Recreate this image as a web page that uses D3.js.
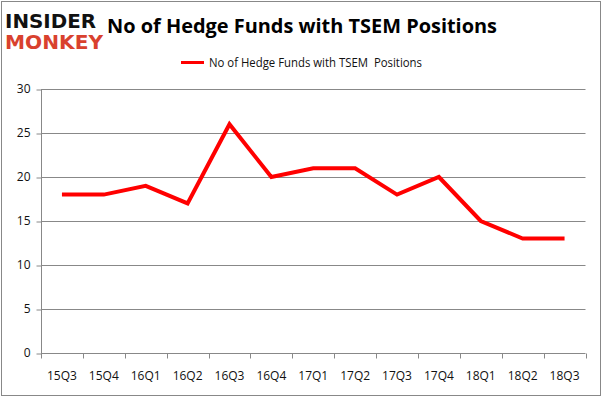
<!DOCTYPE html>
<html>
<head>
<meta charset="utf-8">
<script src="https://cdn.jsdelivr.net/npm/d3@7"></script>
<style>
  body { margin: 0; background: #fff; }
  svg { display: block; }
</style>
</head>
<body>
<script>
const WIDTH = 602;
const HEIGHT = 398;

const quarters = ["15Q3", "15Q4", "16Q1", "16Q2", "16Q3", "16Q4", "17Q1", "17Q2", "17Q3", "17Q4", "18Q1", "18Q2", "18Q3"];
const funds = [18, 18, 19, 17, 26, 20, 21, 21, 18, 20, 15, 13, 13];
const yTicks = [0, 5, 10, 15, 20, 25, 30];
const seriesName = "No of Hedge Funds with TSEM  Positions";
const titleText = "No of Hedge Funds with TSEM Positions";

const margin = {left: 41, right: 16.5, top: 89, bottom: 45};
const FONT = "'Open Sans', 'DejaVu Sans', sans-serif";

const svg = d3.select("body").append("svg")
    .attr("width", WIDTH)
    .attr("height", HEIGHT);

// outer frame
svg.append("rect")
    .attr("x", 1.5).attr("y", 1.5)
    .attr("width", WIDTH - 3).attr("height", HEIGHT - 4)
    .attr("fill", "#fff")
    .attr("stroke", "#888")
    .attr("stroke-width", 1);

const x = d3.scaleBand()
    .domain(quarters)
    .range([margin.left, WIDTH - margin.right]);

const y = d3.scaleLinear()
    .domain([0, 30])
    .range([HEIGHT - margin.bottom, margin.top]);

// gridlines
svg.append("g")
    .selectAll("line")
    .data(yTicks.filter(d => d > 0))
    .enter().append("line")
    .attr("x1", margin.left)
    .attr("x2", WIDTH - margin.right)
    .attr("y1", d => Math.round(y(d)) + 0.5)
    .attr("y2", d => Math.round(y(d)) + 0.5)
    .attr("stroke", "#888")
    .attr("stroke-width", 1);

// y axis
const yAxis = svg.append("g")
    .attr("transform", `translate(${margin.left + 0.5},0)`)
    .call(d3.axisLeft(y).tickValues(yTicks).tickSize(5).tickPadding(6));
yAxis.selectAll("line").attr("stroke", "#888").attr("transform", "translate(0,0.5)");
yAxis.select(".domain").attr("stroke", "#888").attr("d", `M0,${y(0)}V${y(30)}`);
yAxis.selectAll("text")
    .attr("font-family", FONT)
    .attr("font-size", 12)
    .attr("fill", "#111");

// x axis with ticks between categories
const xAxis = svg.append("g")
    .attr("transform", `translate(0,${Math.round(y(0)) + 0.5})`);
xAxis.append("line")
    .attr("x1", margin.left).attr("x2", WIDTH - margin.right)
    .attr("stroke", "#888");
xAxis.selectAll(".tick")
    .data(quarters.concat(["end"]))
    .enter().append("line")
    .attr("x1", (d, i) => Math.round(margin.left + i * x.bandwidth()) + 0.5)
    .attr("x2", (d, i) => Math.round(margin.left + i * x.bandwidth()) + 0.5)
    .attr("y1", 0).attr("y2", 5)
    .attr("stroke", "#888");
xAxis.selectAll("text")
    .data(quarters)
    .enter().append("text")
    .attr("x", d => x(d) + x.bandwidth() / 2)
    .attr("y", 26)
    .attr("text-anchor", "middle")
    .attr("font-family", FONT)
    .attr("font-size", 12)
    .attr("fill", "#111")
    .text(d => d);

// series line
const line = d3.line()
    .x((d, i) => x(quarters[i]) + x.bandwidth() / 2)
    .y(d => y(d));

svg.append("path")
    .datum(funds)
    .attr("d", line)
    .attr("fill", "none")
    .attr("stroke", "#ff0000")
    .attr("stroke-width", 4)
    .attr("stroke-linejoin", "miter");

// title
svg.append("text")
    .attr("x", 107)
    .attr("y", 33)
    .attr("font-family", FONT)
    .attr("font-weight", "bold")
    .attr("font-size", 20)
    .attr("textLength", 390)
    .attr("lengthAdjust", "spacingAndGlyphs")
    .attr("fill", "#000")
    .text(titleText);

// legend
svg.append("line")
    .attr("x1", 181).attr("x2", 204)
    .attr("y1", 62.5).attr("y2", 62.5)
    .attr("stroke", "#ff0000")
    .attr("stroke-width", 3);
svg.append("text")
    .attr("x", 209)
    .attr("y", 67)
    .attr("font-family", FONT)
    .attr("font-size", 12)
    .attr("textLength", 213)
    .attr("lengthAdjust", "spacingAndGlyphs")
    .attr("fill", "#111")
    .style("white-space", "pre")
    .text(seriesName);

// logo
svg.append("text")
    .attr("x", 5).attr("y", 28)
    .attr("font-family", "'DejaVu Sans', sans-serif")
    .attr("font-weight", "bold")
    .attr("font-size", 19)
    .attr("textLength", 91)
    .attr("lengthAdjust", "spacingAndGlyphs")
    .attr("fill", "#111")
    .text("INSIDER");
svg.append("text")
    .attr("x", 5).attr("y", 49)
    .attr("font-family", "'DejaVu Sans', sans-serif")
    .attr("font-weight", "bold")
    .attr("font-size", 20)
    .attr("textLength", 98)
    .attr("lengthAdjust", "spacingAndGlyphs")
    .attr("fill", "#d9412e")
    .text("MONKEY");
</script>
</body>
</html>
